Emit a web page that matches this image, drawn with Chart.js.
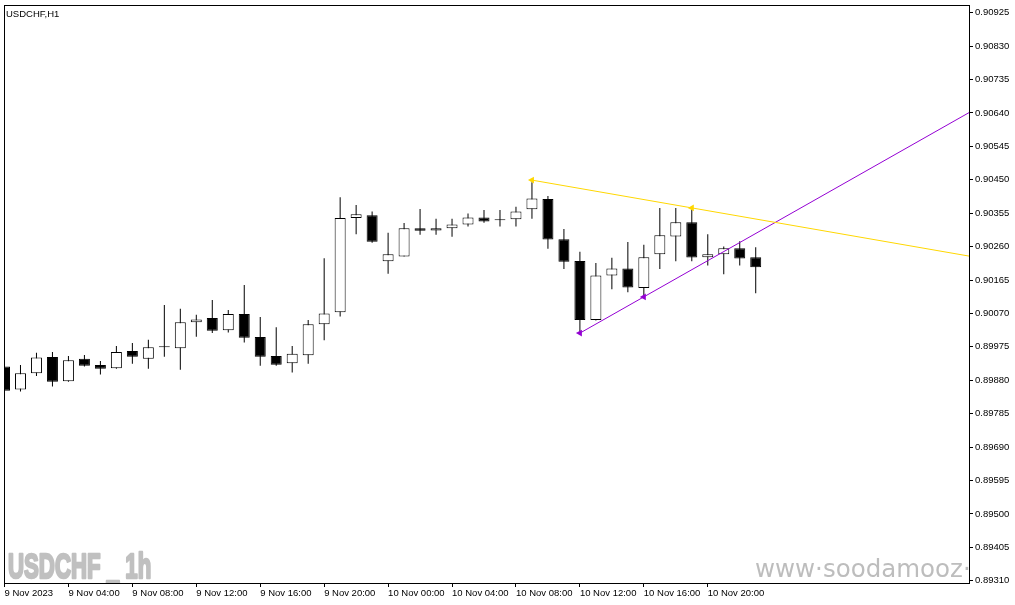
<!DOCTYPE html>
<html lang="en">
<head>
<meta charset="UTF-8">
<title>USDCHF,H1</title>
<script src="https://cdn.jsdelivr.net/npm/chart.js@4"></script>
<style>
  html, body { margin: 0; padding: 0; background: #fff; overflow: hidden; }
  .wrap { width: 1015px; height: 605px; position: relative; }
</style>
</head>
<body>
<div class="wrap"><canvas id="chart"></canvas></div>
<script>
const symbol = 'USDCHF,H1';
const watermark = 'USDCHF _ 1h';
const siteMark = 'www·soodamooz·com';

// one label every 4 hourly bars
const labelStep = 4;
const xLabels = ['9 Nov 2023', '9 Nov 04:00', '9 Nov 08:00', '9 Nov 12:00', '9 Nov 16:00', '9 Nov 20:00',
  '10 Nov 00:00', '10 Nov 04:00', '10 Nov 08:00', '10 Nov 12:00', '10 Nov 16:00', '10 Nov 20:00'];

const yTicks = [0.89310, 0.89405, 0.89500, 0.89595, 0.89690, 0.89785, 0.89880, 0.89975, 0.90070,
  0.90165, 0.90260, 0.90355, 0.90450, 0.90545, 0.90640, 0.90735, 0.90830, 0.90925];

// H1 bars, 9 Nov 00:00 .. 10 Nov 23:00
const opens = [0.89919, 0.89854, 0.89900, 0.89946, 0.89877, 0.89941, 0.89923, 0.89914, 0.89963, 0.89941,
  0.89974, 0.89971, 0.90045, 0.90057, 0.90022, 0.90068, 0.90003, 0.89949, 0.89928, 0.89951,
  0.90039, 0.90073, 0.90341, 0.90349, 0.90218, 0.90232, 0.90312, 0.90306, 0.90312, 0.90323,
  0.90343, 0.90335, 0.90338, 0.90366, 0.90395, 0.90281, 0.90219, 0.90051, 0.90178, 0.90198,
  0.90142, 0.90238, 0.90289, 0.90329, 0.90230, 0.90238, 0.90255, 0.90230];
const highs = [0.89923, 0.89923, 0.89958, 0.89960, 0.89949, 0.89952, 0.89935, 0.89977, 0.89986, 0.89995,
  0.90094, 0.90083, 0.90066, 0.90108, 0.90080, 0.90151, 0.90060, 0.90031, 0.89977, 0.90051,
  0.90227, 0.90400, 0.90378, 0.90360, 0.90299, 0.90327, 0.90367, 0.90339, 0.90339, 0.90354,
  0.90364, 0.90364, 0.90373, 0.90443, 0.90404, 0.90310, 0.90245, 0.90213, 0.90228, 0.90273,
  0.90265, 0.90370, 0.90370, 0.90370, 0.90295, 0.90260, 0.90275, 0.90258];
const lows = [0.89781, 0.89848, 0.89892, 0.89862, 0.89876, 0.89919, 0.89896, 0.89913, 0.89927, 0.89913,
  0.89947, 0.89910, 0.90004, 0.90014, 0.90016, 0.89987, 0.89921, 0.89921, 0.89902, 0.89927,
  0.89994, 0.90061, 0.90295, 0.90271, 0.90183, 0.90232, 0.90294, 0.90294, 0.90288, 0.90317,
  0.90328, 0.90317, 0.90317, 0.90339, 0.90254, 0.90196, 0.90014, 0.90050, 0.90139, 0.90130,
  0.90120, 0.90196, 0.90218, 0.90218, 0.90206, 0.90181, 0.90206, 0.90127];
const closes = [0.89850, 0.89900, 0.89945, 0.89876, 0.89937, 0.89921, 0.89913, 0.89960, 0.89947, 0.89974,
  0.89974, 0.90045, 0.90053, 0.90021, 0.90068, 0.90001, 0.89947, 0.89924, 0.89955, 0.90039,
  0.90070, 0.90341, 0.90352, 0.90274, 0.90238, 0.90312, 0.90305, 0.90312, 0.90323, 0.90343,
  0.90331, 0.90335, 0.90360, 0.90397, 0.90280, 0.90217, 0.90051, 0.90178, 0.90198, 0.90144,
  0.90230, 0.90292, 0.90329, 0.90229, 0.90238, 0.90255, 0.90226, 0.90201];

// trend lines: two anchor bars each, drawn as rays to the right
const yellowBars = [33, 43];
const yellowPrices = [0.90449, 0.90370];
const purpleBars = [36, 40];
const purplePrices = [0.90014, 0.90117];

const xMin = -0.03125;
const xMax = 60.34375;
const yMin = 0.893035;
const yMax = 0.909469;

const font = { family: '"Liberation Sans", Arial, sans-serif', size: 9.5 };

const ray = (bars, prices) => {
  const slope = (prices[1] - prices[0]) / (bars[1] - bars[0]);
  return [
    { x: bars[0], y: prices[0] },
    { x: bars[1], y: prices[1] },
    { x: xMax, y: prices[0] + slope * (xMax - bars[0]) }
  ];
};

const bodyColor = closes.map((c, i) => c > opens[i] ? '#ffffff' : '#000000');

const chrome = {
  id: 'chrome',
  beforeDatasetsDraw(chart) {
    const { ctx, chartArea: a } = chart;
    ctx.save();
    ctx.beginPath();
    ctx.rect(a.left, a.top, a.right - a.left, a.bottom - a.top);
    ctx.clip();
    ctx.fillStyle = '#c0c0c0';
    ctx.strokeStyle = '#c0c0c0';
    ctx.save();
    ctx.translate(8, 578);
    ctx.scale(0.635, 1);
    ctx.font = 'bold 35px "Liberation Sans", Arial, sans-serif';
    ctx.lineWidth = 2.5;
    ctx.lineJoin = 'round';
    ctx.fillText(watermark, 0, 0);
    ctx.strokeText(watermark, 0, 0);
    ctx.restore();
    ctx.fillStyle = '#bdbdbd';
    ctx.font = '24.5px "DejaVu Sans", sans-serif';
    ctx.fillText(siteMark, 755, 577);
    ctx.restore();
  },
  afterDraw(chart) {
    const { ctx, chartArea: a } = chart;
    ctx.save();
    ctx.strokeStyle = '#000';
    ctx.lineWidth = 1;
    ctx.strokeRect(a.left + 0.5, a.top + 0.5, a.right - a.left, a.bottom - a.top);
    ctx.fillStyle = '#000';
    ctx.font = '9.5px "Liberation Sans", Arial, sans-serif';
    ctx.fillText(symbol, 6, 17);
    ctx.restore();
  }
};

new Chart(document.getElementById('chart'), {
  type: 'bar',
  data: {
    datasets: [
      {
        type: 'line',
        data: ray(yellowBars, yellowPrices),
        borderColor: '#ffd700',
        backgroundColor: '#ffd700',
        borderWidth: 1,
        pointRadius: [4, 4, 0],
        pointStyle: 'triangle',
        rotation: -90,
        pointBorderWidth: 0,
        tension: 0,
        clip: 0
      },
      {
        type: 'line',
        data: ray(purpleBars, purplePrices),
        borderColor: '#9400d3',
        backgroundColor: '#9400d3',
        borderWidth: 1,
        pointRadius: [4, 4, 0],
        pointStyle: 'triangle',
        rotation: -90,
        pointBorderWidth: 0,
        tension: 0,
        clip: 0
      },
      {
        // candle bodies
        data: opens.map((o, i) => ({ x: i, y: [Math.min(o, closes[i]), Math.max(o, closes[i])] })),
        backgroundColor: bodyColor,
        borderColor: '#000',
        borderWidth: 1,
        borderSkipped: false,
        barThickness: 11,
        minBarLength: 1,
        inflateAmount: 0,
        grouped: false,
        clip: 0
      },
      {
        // wicks
        data: lows.map((l, i) => ({ x: i, y: [l, highs[i]] })),
        backgroundColor: '#000',
        borderWidth: 0,
        barThickness: 1,
        inflateAmount: 0,
        grouped: false,
        clip: 0
      }
    ]
  },
  options: {
    responsive: true,
    maintainAspectRatio: false,
    animation: false,
    layout: { padding: { left: 3, top: 5, right: 0, bottom: 0 } },
    plugins: { legend: { display: false }, tooltip: { enabled: false } },
    scales: {
      x: {
        type: 'linear',
        min: xMin,
        max: xMax,
        bounds: 'data',
        offset: false,
        grid: { drawOnChartArea: false, drawTicks: true, tickLength: 4, color: '#000', offset: false },
        border: { display: true, color: '#000' },
        ticks: {
          autoSkip: false, maxRotation: 0, align: 'start', padding: 1, color: '#000', font,
          callback: (v, i) => xLabels[i]
        },
        afterBuildTicks: s => { s.ticks = xLabels.map((_, j) => ({ value: j * labelStep })); },
        afterFit: s => { s.height = 22; s.paddingLeft = 0; s.paddingRight = 0; }
      },
      y: {
        type: 'linear',
        position: 'right',
        min: yMin,
        max: yMax,
        bounds: 'data',
        grid: { drawOnChartArea: false, drawTicks: true, tickLength: 4, color: '#000' },
        border: { display: true, color: '#000' },
        ticks: {
          autoSkip: false, padding: 2, color: '#000', font,
          callback: v => v.toFixed(5)
        },
        afterBuildTicks: s => { s.ticks = yTicks.map(v => ({ value: v })); },
        afterFit: s => { s.width = 46; s.paddingTop = 0; s.paddingBottom = 0; }
      }
    }
  },
  plugins: [chrome]
});
</script>
</body>
</html>
